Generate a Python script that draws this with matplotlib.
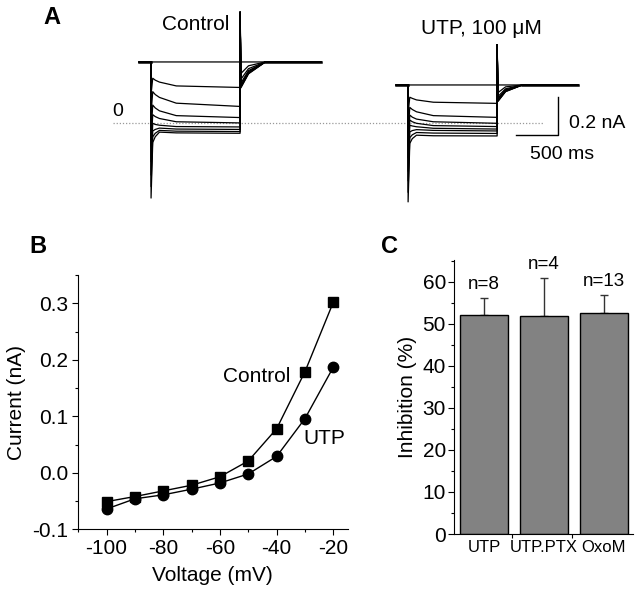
import matplotlib
matplotlib.use("Agg")
import matplotlib.pyplot as plt
from matplotlib.ticker import MultipleLocator, FixedLocator, NullFormatter

plt.rcParams['font.family'] = ['Liberation Sans', 'DejaVu Sans']
plt.rcParams['axes.unicode_minus'] = False

# ---------------- Panel A: current traces (nA) ----------------
step_voltages = [-20, -30, -40, -50, -60, -70, -80, -90, -100]
ctrl_hold = 0.32
ctrl_spike = [0.32, 0.15, 0.05, -0.05, -0.12, -0.20, -0.27, -0.33, -0.39]
ctrl_early = [0.32, 0.235, 0.165, 0.095, 0.045, 0.0, -0.04, -0.07, -0.10]
ctrl_mid0 = [0.32, 0.225, 0.15, 0.08, 0.035, -0.006, -0.032, -0.052, -0.07]
ctrl_mid1 = [0.32, 0.215, 0.135, 0.065, 0.025, -0.01, -0.025, -0.037, -0.046]
ctrl_mid2 = [0.32, 0.195, 0.105, 0.04, 0.008, -0.017, -0.03, -0.041, -0.05]
ctrl_end = [0.32, 0.187, 0.088, 0.03, 0.002, -0.019, -0.032, -0.043, -0.052]
ctrl_tail = [0.32, 0.26, 0.23, 0.21, 0.20, 0.195, 0.19, 0.19, 0.185]
ctrl_tail_mid = [0.32, 0.30, 0.285, 0.275, 0.27, 0.265, 0.262, 0.26, 0.258]
ctrl_spike_up = 0.58

utp_hold = 0.20
utp_spike = [0.20, 0.05, -0.05, -0.12, -0.18, -0.25, -0.30, -0.36, -0.41]
utp_early = [0.20, 0.136, 0.083, 0.043, 0.017, -0.01, -0.045, -0.075, -0.105]
utp_mid0 = [0.20, 0.13, 0.072, 0.032, 0.008, -0.014, -0.038, -0.06, -0.08]
utp_mid1 = [0.20, 0.122, 0.06, 0.022, 0.0, -0.018, -0.033, -0.048, -0.062]
utp_mid2 = [0.20, 0.11, 0.04, 0.008, -0.012, -0.026, -0.037, -0.051, -0.065]
utp_end = [0.20, 0.104, 0.031, 0.0, -0.017, -0.030, -0.040, -0.053, -0.066]
utp_tail = [0.20, 0.16, 0.14, 0.13, 0.125, 0.12, 0.12, 0.115, 0.115]
utp_tail_mid = [0.20, 0.19, 0.18, 0.175, 0.172, 0.17, 0.168, 0.166, 0.165]
utp_spike_up = 0.41

# protocol timing (s)
t_on, t_off, t_end = 0.14, 1.20, 2.16
t_utp_offset = 3.06

# ---------------- Panel B: I-V ----------------
voltage = [-100, -90, -80, -70, -60, -50, -40, -30, -20]
current_control = [-0.051, -0.042, -0.032, -0.022, -0.007, 0.021, 0.078, 0.179, 0.302]
current_utp = [-0.064, -0.046, -0.039, -0.029, -0.018, -0.002, 0.029, 0.096, 0.187]

# ---------------- Panel C: inhibition ----------------
groups = ['UTP', 'UTP.PTX', 'OxoM']
inhibition = [52.2, 51.8, 52.5]
inhibition_err = [4.0, 9.2, 4.4]
n_labels = ['n=8', 'n=4', 'n=13']

W, H = 640, 595
fig = plt.figure(figsize=(6.4, 5.95), dpi=100)


def fx(x):
    return x / W


def fy(y):
    return 1 - y / H


# ----- Panel A -----
axA = fig.add_axes([0, fy(215), 1, 215 / H])
axA.set_xlim(-139.3 / 84, (640 - 139.3) / 84)
axA.set_ylim((123.3 - 215) / 191.7, 123.3 / 191.7)
axA.axis('off')

axA.plot([-0.31, 4.81], [0, 0], color='#999999', lw=0.9, ls=(0, (1, 1.5)))


def draw_traces(offset, hold, spike, early, mid0, mid1, mid2, end, tail, tail_mid, spike_up):
    for i in range(len(step_voltages)):
        xs = [0, t_on, t_on, t_on + 0.02, t_on + 0.05, t_on + 0.1, t_on + 0.3, t_off, t_off,
              t_off + 0.01, t_off + 0.1, t_off + 0.3, t_end]
        ys = [hold, hold, spike[i], early[i], mid0[i], mid1[i], mid2[i], end[i], spike_up,
              tail[i], tail_mid[i], hold, hold]
        axA.plot([x + offset for x in xs], ys, color='black', lw=0.9)
    axA.plot([offset, offset + t_on], [hold, hold], color='black', lw=1.8)
    axA.plot([offset + t_off + 0.3, offset + t_end], [hold, hold], color='black', lw=1.8)


draw_traces(0.0, ctrl_hold, ctrl_spike, ctrl_early, ctrl_mid0, ctrl_mid1, ctrl_mid2, ctrl_end,
            ctrl_tail, ctrl_tail_mid, ctrl_spike_up)
draw_traces(t_utp_offset, utp_hold, utp_spike, utp_early, utp_mid0, utp_mid1, utp_mid2, utp_end,
            utp_tail, utp_tail_mid, utp_spike_up)

# scale bars: 500 ms, 0.2 nA
axA.plot([4.485, 4.985, 4.985], [-0.061, -0.061, 0.139], color='black', lw=1.0)
axA.text(5.12, 0.0, '0.2 nA', fontsize=14, va='center', ha='left')
axA.text(5.03, -0.165, '500 ms', fontsize=14, va='center', ha='center')
axA.text(-0.254, 0.064, '0', fontsize=14, va='center', ha='center')

fig.text(fx(196), fy(24), 'Control', fontsize=15, ha='center', va='center')
fig.text(fx(481.6), fy(29), 'UTP, 100 \u03bcM', fontsize=15, ha='center', va='center')

fig.text(fx(52), fy(17.5), 'A', fontsize=17, fontweight='bold', ha='center', va='center')
fig.text(fx(38), fy(246.7), 'B', fontsize=17, fontweight='bold', ha='center', va='center')
fig.text(fx(389), fy(246.7), 'C', fontsize=17, fontweight='bold', ha='center', va='center')

# ----- Panel B -----
axB = fig.add_axes([fx(77.7), fy(529.3), (347.5 - 77.7) / W, (529.3 - 275) / H])
axB.plot(voltage, current_control, color='black', lw=1.0, marker='s', ms=7)
axB.plot(voltage, current_utp, color='black', lw=1.0, marker='o', ms=7.5)
axB.set_xlim(-110.2, -15)
axB.set_ylim(-0.1, 0.35)
axB.spines['top'].set_visible(False)
axB.spines['right'].set_visible(False)
axB.set_xticks([-100, -80, -60, -40, -20])
axB.xaxis.set_minor_locator(MultipleLocator(10))
axB.set_yticks([-0.1, 0.0, 0.1, 0.2, 0.3])
axB.set_yticklabels(['-0.1', '0.0', '0.1', '0.2', '0.3'])
axB.yaxis.set_minor_locator(MultipleLocator(0.05))
axB.tick_params(which='major', length=4, width=0.8, labelsize=15, pad=3)
axB.tick_params(which='minor', length=2.5, width=0.8)
axB.set_xlabel('Voltage (mV)', fontsize=15, labelpad=6)
axB.set_ylabel('Current (nA)', fontsize=15, labelpad=4)
fig.text(fx(256.7), fy(376.7), 'Control', fontsize=15, ha='center', va='center')
fig.text(fx(303.3), fy(438), 'UTP', fontsize=15, ha='left', va='center')

# ----- Panel C -----
axC = fig.add_axes([fx(454.3), fy(534), (633.3 - 454.3) / W, (534 - 260) / H])
xpos = list(range(len(groups)))
axC.bar(xpos, inhibition, width=0.8, color='#828282', edgecolor='black', linewidth=1.0, zorder=2)
axC.errorbar(xpos, inhibition, yerr=[[0] * len(groups), inhibition_err], fmt='none',
             ecolor='#333333', elinewidth=1.0, capsize=3, capthick=1.0, zorder=1)
for x, v, e, lab in zip(xpos, inhibition, inhibition_err, n_labels):
    axC.text(x, v + e + 3.2, lab, fontsize=13.5, ha='center', va='center', clip_on=False)
axC.set_xlim(-0.495, 2.49)
axC.set_ylim(0, 65.2)
axC.spines['top'].set_visible(False)
axC.spines['right'].set_visible(False)
axC.xaxis.set_major_locator(FixedLocator([0.47, 1.47]))
axC.xaxis.set_major_formatter(NullFormatter())
axC.xaxis.set_minor_locator(FixedLocator(xpos))
axC.set_xticklabels(groups, minor=True)
axC.tick_params(axis='x', which='minor', length=0, labelsize=12, pad=4)
axC.tick_params(axis='x', which='major', length=3, width=0.8)
axC.set_yticks(range(0, 61, 10))
axC.yaxis.set_minor_locator(MultipleLocator(5))
axC.tick_params(axis='y', which='major', length=4, width=0.8, labelsize=15, pad=2)
axC.tick_params(axis='y', which='minor', length=2.5, width=0.8)
axC.set_ylabel('Inhibition (%)', fontsize=15, labelpad=4)

fig.savefig('out.png', dpi=100)
